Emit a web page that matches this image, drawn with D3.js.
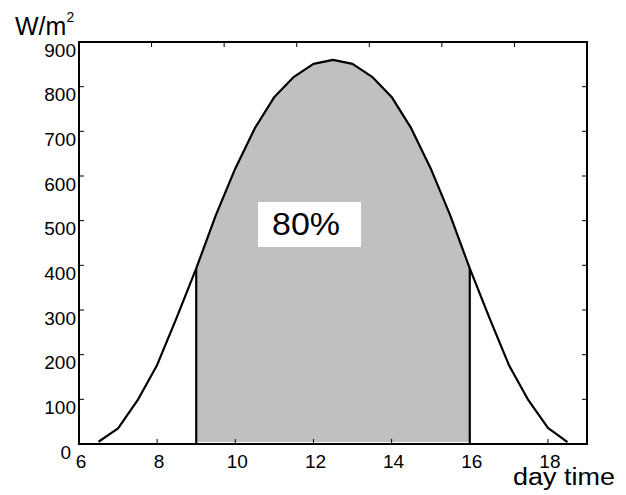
<!DOCTYPE html>
<html lang="en">
<head>
<meta charset="UTF-8">
<title>solar irradiance</title>
<script src="https://cdn.jsdelivr.net/npm/d3@7"></script>
<style>
  body { margin: 0; background: #fff; }
  text { font-family: "Liberation Sans", Arial, sans-serif; fill: #000; }
</style>
</head>
<body>
<svg id="chart"></svg>
<script>
// data
const hours = [6.5, 7, 7.5, 8, 8.5, 9, 9.5, 10, 10.5, 11, 11.5, 12, 12.5,
               13, 13.5, 14, 14.5, 15, 15.5, 16, 16.5, 17, 17.5, 18, 18.5];
const power = [5, 35, 98, 177, 283, 393, 512, 617, 707, 777, 822, 851, 860,
               851, 822, 777, 707, 617, 512, 393, 283, 177, 98, 36, 4];
const xTicks = [6, 8, 10, 12, 14, 16, 18];
const yTicks = [0, 100, 200, 300, 400, 500, 600, 700, 800, 900];
const shadeFrom = 9, shadeTo = 16;
const shareLabel = "80%";

const W = 626, H = 495;
const margin = { top: 42, right: 39, bottom: 51, left: 79 };
const svg = d3.select("#chart").attr("width", W).attr("height", H);

const x = d3.scaleLinear().domain([6, 19]).range([margin.left, W - margin.right]);
const y = d3.scaleLinear().domain([0, 900]).range([H - margin.bottom, margin.top]);
const xTop = d3.scaleLinear().domain([0, 7]).range(x.range()); // top ticks split the box in 7

const pts = hours.map((h, i) => ({ h: h, v: power[i] }));

// shaded part
const area = d3.area().x(d => x(d.h)).y0(y(0) - 2).y1(d => y(d.v));
svg.append("path")
  .datum(pts.filter(d => d.h >= shadeFrom && d.h <= shadeTo))
  .attr("d", area)
  .attr("fill", "#c0c0c0");

// vertical edges of the shaded part
[shadeFrom, shadeTo].forEach(h => {
  const p = pts.find(d => d.h === h);
  svg.append("line")
    .attr("x1", x(h)).attr("x2", x(h))
    .attr("y1", y(0)).attr("y2", y(p.v))
    .attr("stroke", "#000").attr("stroke-width", 2.2);
});

// curve
svg.append("path")
  .datum(pts)
  .attr("d", d3.line().x(d => x(d.h)).y(d => y(d.v)))
  .attr("fill", "none").attr("stroke", "#000").attr("stroke-width", 2.2)
  .attr("stroke-linejoin", "round");

// ticks (inward)
const tk = 5;
const ticks = svg.append("g").attr("stroke", "#000").attr("stroke-width", 1);
xTicks.forEach(t => {
  ticks.append("line").attr("x1", x(t)).attr("x2", x(t)).attr("y1", y(0)).attr("y2", y(0) - tk);
});
xTop.ticks(7).forEach(t => {
  ticks.append("line").attr("x1", xTop(t)).attr("x2", xTop(t)).attr("y1", y(900)).attr("y2", y(900) + tk);
});
yTicks.forEach(t => {
  ticks.append("line").attr("x1", x(6)).attr("x2", x(6) + tk).attr("y1", y(t)).attr("y2", y(t));
  ticks.append("line").attr("x1", x(19)).attr("x2", x(19) - tk).attr("y1", y(t)).attr("y2", y(t));
});

// box
svg.append("rect")
  .attr("x", x(6)).attr("y", y(900))
  .attr("width", x(19) - x(6)).attr("height", y(0) - y(900))
  .attr("fill", "none").attr("stroke", "#000").attr("stroke-width", 2);

// tick labels
svg.append("g").selectAll("text").data(yTicks).join("text")
  .attr("x", d => d === 0 ? x(6) - 8 : x(6) - 3)
  .attr("y", d => y(d) + 14.5)
  .attr("text-anchor", "end")
  .attr("font-size", 19)
  .text(d => d);

svg.append("g").selectAll("text").data(xTicks).join("text")
  .attr("x", d => x(d) + 2)
  .attr("y", y(0) + 24)
  .attr("text-anchor", "middle")
  .attr("font-size", 19)
  .text(d => d);

// axis titles
const yl = svg.append("text").attr("x", 15).attr("y", 35).attr("font-size", 25);
yl.append("tspan").text("W/m");
yl.append("tspan").attr("font-size", 14).attr("dy", -13).text("2");

svg.append("text")
  .attr("x", 513).attr("y", 485)
  .attr("font-size", 23)
  .attr("textLength", 102).attr("lengthAdjust", "spacingAndGlyphs")
  .text("day time");

// label box
svg.append("rect")
  .attr("x", 258).attr("y", 202).attr("width", 103).attr("height", 45)
  .attr("fill", "#fff");
svg.append("text")
  .attr("x", 272).attr("y", 235)
  .attr("font-size", 31)
  .attr("textLength", 68).attr("lengthAdjust", "spacingAndGlyphs")
  .text(shareLabel);
</script>
</body>
</html>
